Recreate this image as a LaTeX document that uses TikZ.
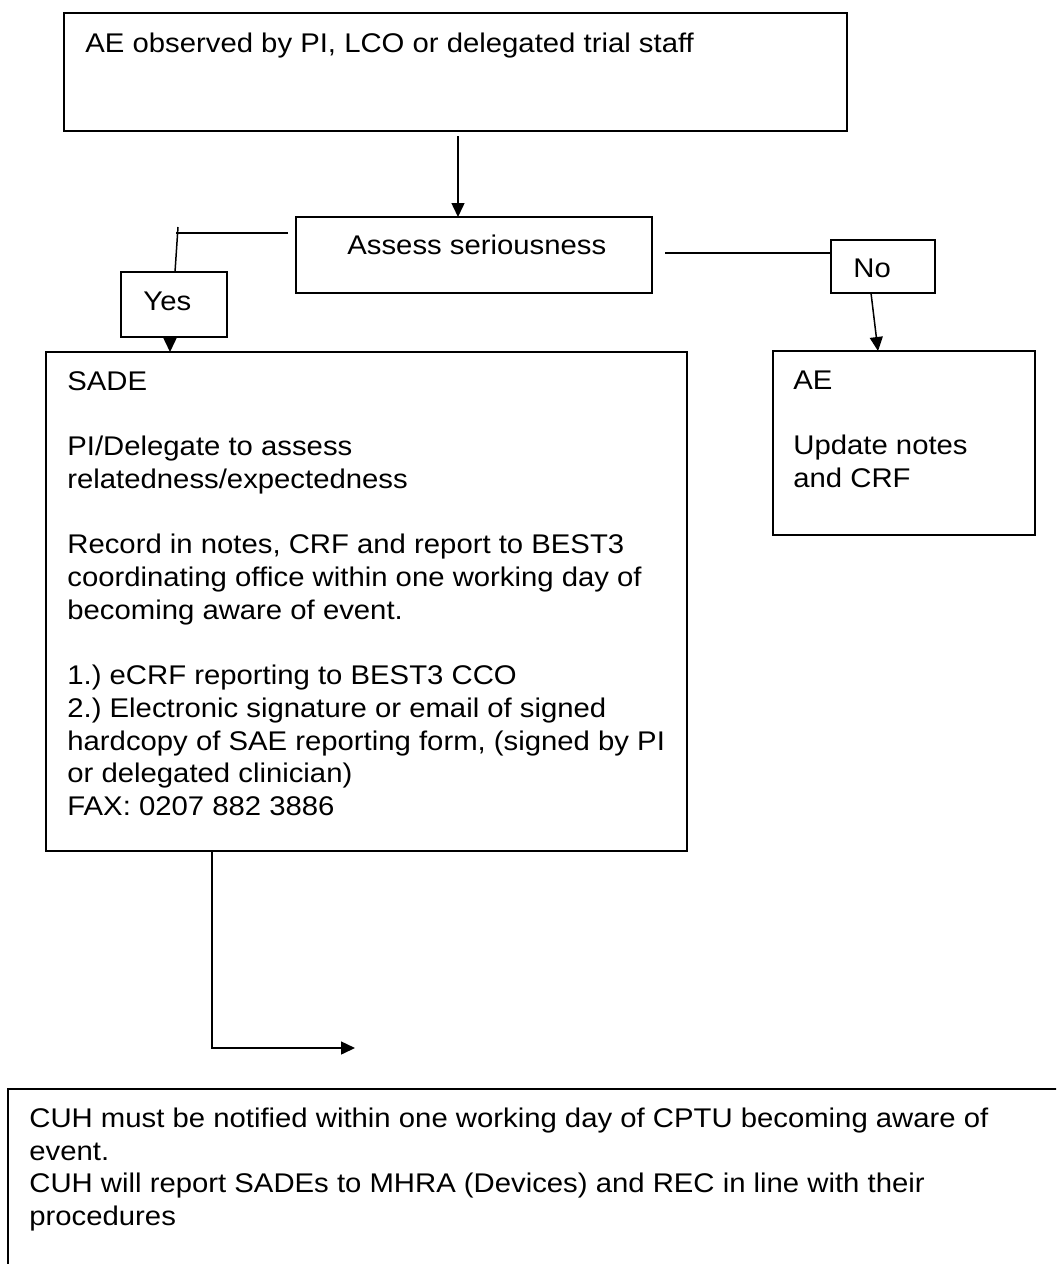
\documentclass[tikz,border=0pt]{standalone}
\usepackage{fontspec}
\setmainfont{Liberation Sans}[FakeStretch=1.085]
\usetikzlibrary{arrows.meta}
\frenchspacing
\begin{document}
\begin{tikzpicture}[x=0.5pt,y=-0.5pt,
		box/.style={draw,line width=0.9pt,anchor=north west,inner sep=0pt,outer sep=0pt},
		txt/.style={anchor=north west,inner sep=0pt,align=left,font=\fontsize{13.5}{16.35}\selectfont},
		conn/.style={line width=0.75pt},
		arr/.style={line width=0.75pt,-{Triangle[length=7pt,width=6.5pt]}}]
		\clip (0,0) rectangle (1056,1264);
		% boxes
		\node[box,minimum width=391.5pt,minimum height=59pt](observed) at (64,13){};
		\node[box,minimum width=178pt,minimum height=38pt](assess) at (296,217){};
		\node[box,minimum width=53pt,minimum height=32.5pt](yes) at (121,272){};
		\node[box,minimum width=52pt,minimum height=26.5pt](no) at (831,240){};
		\node[box,minimum width=320.5pt,minimum height=249.5pt](sade) at (46,352){};
		\node[box,minimum width=131pt,minimum height=92pt](ae) at (773,351){};
		\node[box,minimum width=531pt,minimum height=95.5pt](cuh) at (8,1089){};
		% texts
		\node[txt](observedtxt) at (85,29.1){\strut AE observed by PI, LCO or delegated trial staff};
		\node[txt](assesstxt) at (347,231.1){\strut Assess seriousness};
		\node[txt](yestxt) at (143,287.1){\strut Yes};
		\node[txt](notxt) at (853,254.1){\strut No};
		\node[txt](sadetxt) at (67,367.1){\strut SADE\\[16.35pt]
			PI/Delegate to assess\\
			relatedness/expectedness\\[16.35pt]
			Record in notes, CRF and report to BEST3\\
			coordinating office within one working day of\\
			becoming aware of event.\\[16.35pt]
			1.) eCRF reporting to BEST3 CCO\\
			2.) Electronic signature or email of signed\\
			hardcopy of SAE reporting form, (signed by PI\\
			or delegated clinician)\\
			FAX: 0207 882 3886};
		\node[txt](aetxt) at (793,366.1){\strut AE\\[16.35pt]
			Update notes\\
			and CRF};
		\node[txt](cuhtxt) at (29,1104.1){\strut CUH must be notified within one working day of CPTU becoming aware of\\
			event.\\
			CUH will report SADEs to MHRA (Devices) and REC in line with their\\
			procedures};
		% connectors
		\coordinate (yestick) at (178,227);
		\coordinate (yesturn) at (176,233);
		\coordinate (cuhin) at (355,1048);
		\draw[arr]([xshift=1.25pt,yshift=-2.5pt]observed.south) -- ([xshift=1.25pt]observed.south |- assess.north);
		\draw[conn]([xshift=-4pt,yshift=11pt]assess.west) -- (yesturn);
		\draw[conn](yestick) -- ([xshift=0.5pt]yes.north);
		\draw[arr]([xshift=-2pt]yes.south) -- ([xshift=-2pt]yes.south |- sade.north);
		\draw[conn]([xshift=6.5pt,yshift=1pt]assess.east) -- ([yshift=1pt]assess.east -| no.west);
		\draw[arr]([xshift=-6pt]no.south) -- ([xshift=-13pt]ae.north);
		\draw[arr]([xshift=-77.25pt]sade.south) |- (cuhin);
	\end{tikzpicture}
\end{document}
